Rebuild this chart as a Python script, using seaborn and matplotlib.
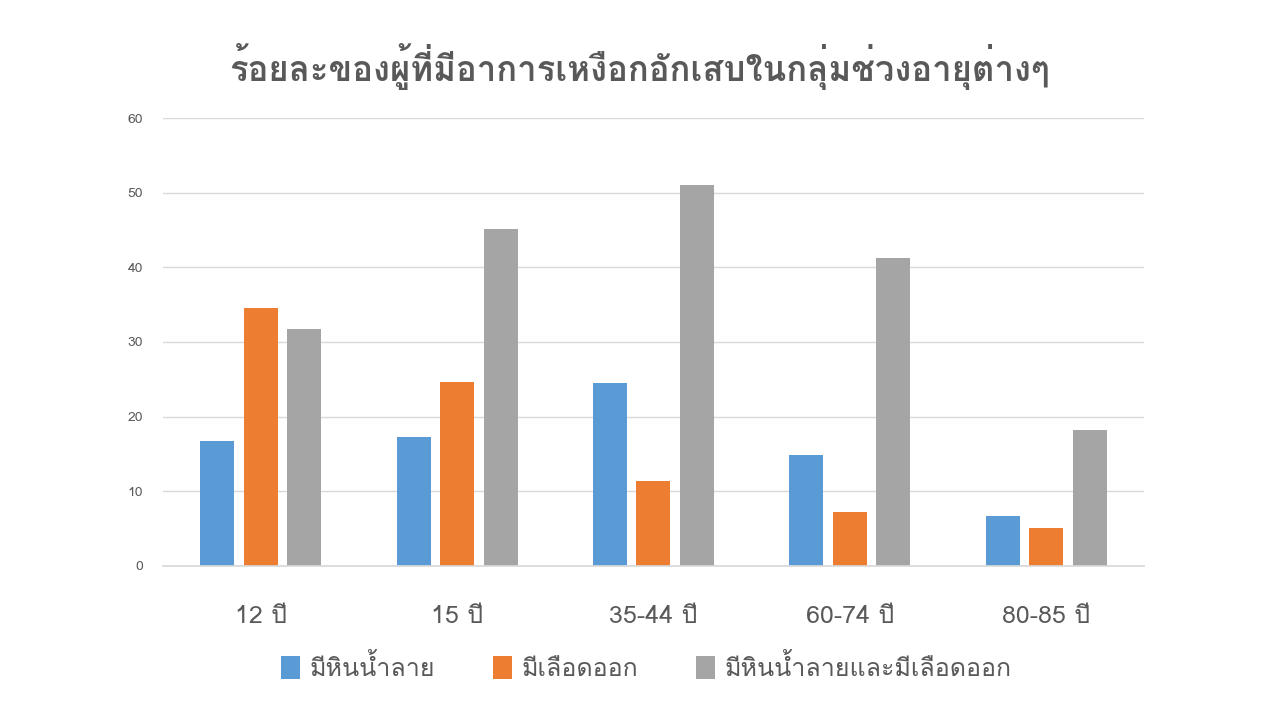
import matplotlib
matplotlib.use("Agg")
import matplotlib.pyplot as plt
from matplotlib import font_manager
from matplotlib.ft2font import FT2Font
import pandas as pd
import seaborn as sns

age_groups = ["12 ปี", "15 ปี", "35-44 ปี", "60-74 ปี", "80-85 ปี"]
series_names = ["มีหินน้ำลาย", "มีเลือดออก", "มีหินน้ำลายและมีเลือดออก"]
calculus = [16.8, 17.3, 24.5, 14.8, 6.7]
bleeding = [34.5, 24.7, 11.4, 7.2, 5.1]
both = [31.8, 45.2, 51.1, 41.3, 18.2]
title = "ร้อยละของผู้ที่มีอาการเหงือกอักเสบในกลุ่มช่วงอายุต่างๆ"

colors = ["#5b9bd5", "#ed7d31", "#a5a5a5"]
text_gray = "#595959"


def find_thai_font():
    # look for any installed face that covers Thai
    found = []
    for f in font_manager.fontManager.ttflist:
        try:
            cmap = FT2Font(f.fname).get_charmap()
        except Exception:
            continue
        if 0x0E23 in cmap and 0x0E35 in cmap:
            found.append(f.name)
    return found


thai_fonts = find_thai_font()

sns.set_theme(style="whitegrid")
families = []
if thai_fonts:
    families.append(thai_fonts[0])
families += ["DejaVu Sans"]
plt.rcParams["font.family"] = families

df = pd.DataFrame({
    "age": age_groups * 3,
    "series": [series_names[0]] * 5 + [series_names[1]] * 5 + [series_names[2]] * 5,
    "value": calculus + bleeding + both,
})

fig = plt.figure(figsize=(12.8, 7.2), dpi=100)
ax = fig.add_axes([0.127, 0.214, 0.767, 0.622])

sns.barplot(
    data=df, x="age", y="value", hue="series",
    palette=colors, width=0.665, gap=0.22, ax=ax,
    saturation=1, legend=True, linewidth=0,
)

ax.set_ylim(0, 60)
ax.set_yticks(range(0, 61, 10))
ax.set_xlabel("")
ax.set_ylabel("")
ax.grid(axis="y", color="#d9d9d9", linewidth=1)
ax.grid(axis="x", visible=False)
for side in ["top", "left", "right"]:
    ax.spines[side].set_visible(False)
ax.spines["bottom"].set_color("#d9d9d9")
ax.tick_params(axis="y", labelsize=10, labelcolor=text_gray, length=0, pad=14)
ax.tick_params(axis="x", labelsize=18, labelcolor=text_gray, length=0, pad=28)

handles, labels = ax.get_legend_handles_labels()
ax.get_legend().remove()
fig.legend(
    handles, labels, loc="center", bbox_to_anchor=(0.505, 0.073), ncol=3,
    frameon=False, fontsize=18, labelcolor=text_gray,
    handlelength=0.75, handleheight=1.0, columnspacing=2.3, handletextpad=0.4,
)

fig.text(0.5, 0.908, title, ha="center", va="center",
         fontsize=25, fontweight="bold", color=text_gray)

fig.savefig("out.png", dpi=100)
